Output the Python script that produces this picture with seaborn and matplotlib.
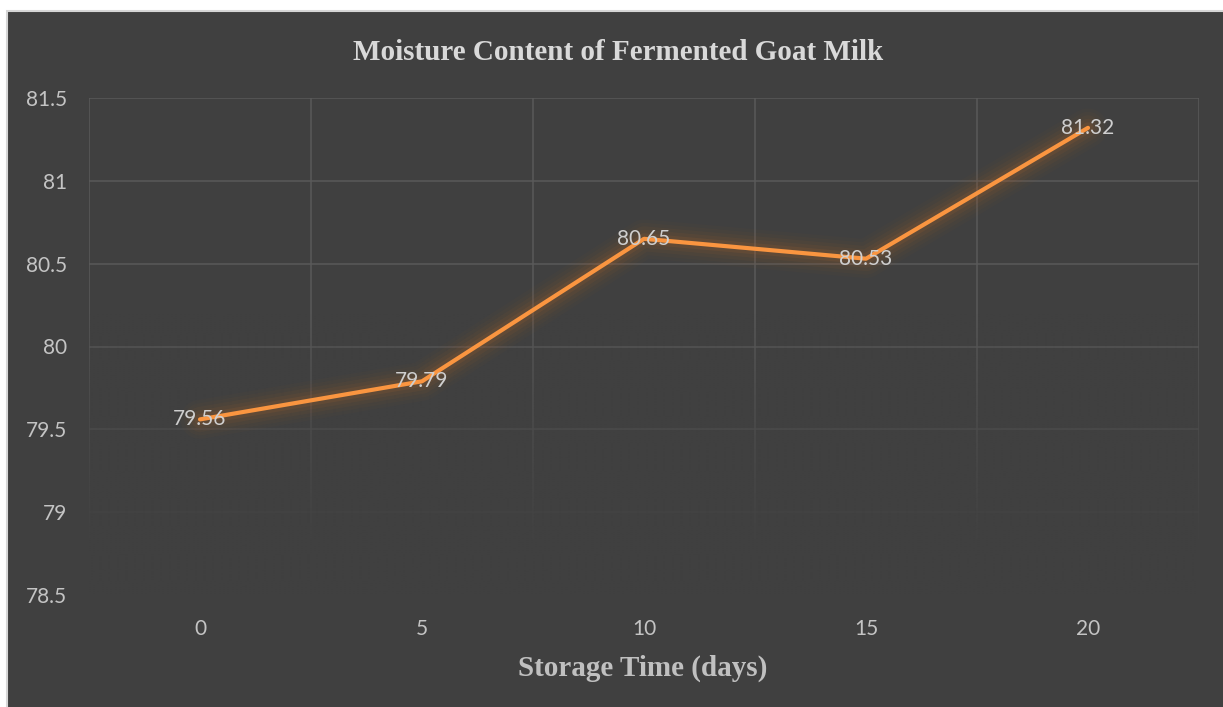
import matplotlib
matplotlib.use("Agg")
import matplotlib.pyplot as plt
import matplotlib.patheffects as pe
from matplotlib.colors import to_rgb
from matplotlib.patches import Rectangle
import numpy as np
import pandas as pd
import seaborn as sns

# ---- data ----
storage_days = ["0", "5", "10", "15", "20"]
moisture = [79.56, 79.79, 80.65, 80.53, 81.32]
y_ticks = [78.5, 79, 79.5, 80, 80.5, 81, 81.5]

title = "Moisture Content of Fermented Goat Milk"
x_label = "Storage Time (days)"

BG = "#404040"
GRID = "#5a5a5a"
LINE = "#fa9540"
TICK_TXT = "#c4c4c4"

sns.set_theme(style="dark")
plt.rcParams["font.family"] = ["Lato", "DejaVu Sans"]

W, H = 1223, 707
fig = plt.figure(figsize=(W / 100, H / 100), dpi=100, facecolor="white")

# dark chart panel with thin light border (cropped on the right/bottom)
fig.patches.append(Rectangle((7 / W, -0.01), 1.02, 1 - 11 / H + 0.01,
                             transform=fig.transFigure, facecolor=BG,
                             edgecolor="#d6d6d6", linewidth=1.5, zorder=-5))

ax = fig.add_axes([89 / W, 1 - 595 / H, (1199 - 89) / W, (595 - 98) / H])
ax.set_facecolor(BG)

df = pd.DataFrame({"days": storage_days, "moisture": moisture})
sns.lineplot(data=df, x="days", y="moisture", color=LINE, linewidth=3.0,
             sort=False, ax=ax, zorder=3)

# soft, diffuse orange glow around the line
line = ax.lines[0]
line.set_solid_capstyle("round")
line.set_path_effects([
    pe.Stroke(linewidth=28, foreground="#a35c26", alpha=0.04),
    pe.Stroke(linewidth=23, foreground="#a35c26", alpha=0.05),
    pe.Stroke(linewidth=18, foreground="#a8602a", alpha=0.07),
    pe.Stroke(linewidth=13, foreground="#b0652c", alpha=0.09),
    pe.Stroke(linewidth=8, foreground="#b86a2e", alpha=0.12),
    pe.Normal(),
])

# data labels centred on the points
for i, v in enumerate(moisture):
    ax.text(i, v, f"{v:.2f}", ha="center", va="center", fontsize=15,
            color="#cfcfcf", zorder=5)

ax.set_xlim(-0.5, len(storage_days) - 0.5)
ax.set_ylim(y_ticks[0], y_ticks[-1])
ax.set_yticks(y_ticks)
ax.set_yticklabels([f"{v:g}" for v in y_ticks])
ax.set_xticks(range(len(storage_days)))
ax.set_xticklabels(storage_days)
ax.set_xticks(np.arange(-0.5, len(storage_days)), minor=True)

ax.grid(False)
ax.grid(axis="y", which="major", color=GRID, linewidth=1.1)
ax.grid(axis="x", which="minor", color=GRID, linewidth=1.1)
ax.set_axisbelow(True)
ax.tick_params(axis="both", which="both", length=0, colors=TICK_TXT,
               labelsize=15)
ax.tick_params(axis="y", pad=16)
ax.tick_params(axis="x", pad=17)
for s in ax.spines.values():
    s.set_visible(False)

# gridlines fade out toward the bottom of the plot area
ys = np.linspace(y_ticks[0], y_ticks[-1], 400)
alpha = np.clip((80.2 - ys) / 1.45, 0, 1) ** 0.8
ramp = np.zeros((len(ys), 2, 4))
ramp[..., :3] = to_rgb(BG)
ramp[..., 3] = alpha[:, None]
ax.imshow(ramp, extent=[-0.5, len(storage_days) - 0.5, y_ticks[0], y_ticks[-1]],
          origin="lower", aspect="auto", zorder=1, interpolation="bilinear")
ax.set_xlim(-0.5, len(storage_days) - 0.5)
ax.set_ylim(y_ticks[0], y_ticks[-1])

ax.set_xlabel("")
ax.set_ylabel("")

fig.text(618 / W, 1 - 53 / H, title, ha="center", va="center",
         fontsize=21, fontweight="bold", color="#d9d9d9",
         family=["Liberation Serif", "DejaVu Serif"])
fig.text(643 / W, 1 - 668 / H, x_label, ha="center", va="center",
         fontsize=21, fontweight="bold", color="#c0c0c0",
         family=["Liberation Serif", "DejaVu Serif"])

fig.savefig("out.png", dpi=100, facecolor="white")
